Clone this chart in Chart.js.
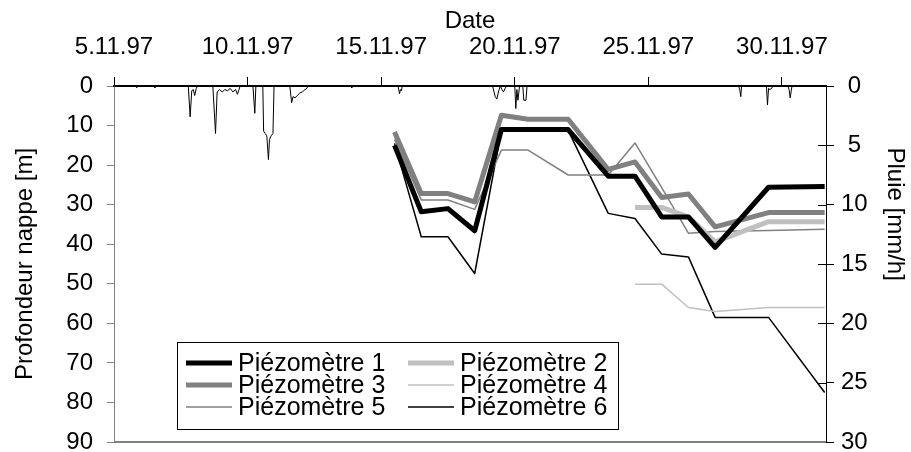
<!DOCTYPE html>
<html>
<head>
<meta charset="utf-8">
<script src="https://cdn.jsdelivr.net/npm/chart.js@4.4.0/dist/chart.umd.min.js"></script>
<style>
  html, body { margin: 0; padding: 0; background: #fff; }
  #wrap { width: 911px; height: 452px; }
</style>
</head>
<body>
<div id="wrap"><canvas id="nappeChart" width="911" height="452"></canvas></div>
<script>
// time axis: days after 5.11.97 00:00
const dateTicks = [0, 5, 10, 15, 20, 25];
const dateLabels = ["5.11.97", "10.11.97", "15.11.97", "20.11.97", "25.11.97", "30.11.97"];

// piezometer readings (depth of water table, m)
const days = [10.5, 11.5, 12.5, 13.5, 14.5, 15.5, 17, 18.5, 19.5, 20.5, 21.5, 22.5, 24.5, 26.6];
const piezo1 = [15.0, 31.8, 31.0, 36.6, 11.0, 11.0, 11.0, 22.8, 22.8, 33.1, 33.1, 40.8, 25.6, 25.4];
const piezo2 = [null, null, null, null, null, null, null, null, 30.7, 30.7, 33.1, 39.4, 34.3, 34.3];
const piezo3 = [11.6, 27.2, 27.2, 29.3, 7.4, 8.4, 8.4, 21.1, 19.2, 28.2, 27.3, 35.6, 32.0, 32.0];
const piezo4 = [null, null, null, null, null, null, null, null, 50.1, 50.1, 56.0, 57.0, 56.0, 56.0];
const piezo5 = [13.5, 28.8, 28.8, 31.2, 16.2, 16.2, 22.5, 22.5, 14.4, 25.7, 37.2, 36.8, 36.5, 36.2];
const piezo6 = [14.5, 38.1, 38.1, 47.4, 11.2, 11.2, 11.2, 32.2, 33.5, 42.5, 43.2, 58.5, 58.5, 77.5];

// rainfall intensity (mm/h)
const rainTime = [
  0, 0.80, 0.85, 0.90, 1.50, 1.53, 1.56,
  2.78, 2.85, 2.91, 2.97, 3.02, 3.08, 3.12,
  3.70, 3.80, 3.86, 3.95, 4.05, 4.15, 4.25, 4.35, 4.45, 4.55, 4.62, 4.68, 4.72,
  5.20, 5.27, 5.31,
  5.57, 5.60, 5.66, 5.72, 5.78, 5.82, 5.88, 5.95, 5.99,
  6.58, 6.65, 6.70, 6.78, 6.86, 6.95, 7.05, 7.15, 7.22, 7.26,
  8.88, 8.90, 8.92,
  10.63, 10.69, 10.72, 10.76, 10.79,
  14.17, 14.27, 14.33, 14.40, 14.46, 14.52, 14.58, 14.64, 14.70,
  15.00, 15.04, 15.08, 15.12, 15.18, 15.30, 15.34, 15.42, 15.46,
  23.38, 23.42, 23.46, 23.49,
  24.42, 24.46, 24.50, 24.55, 24.62, 24.66,
  25.22, 25.27, 25.31, 25.35, 25.38,
  26.65
];
const rainRate = [
  0, 0, 0.15, 0, 0, 0.15, 0,
  0, 2.6, 0.4, 0.3, 0.8, 0.2, 0,
  0, 4.0, 0.5, 0.3, 0.5, 0.3, 0.4, 0.2, 0.5, 0.3, 0.7, 0.3, 0,
  0, 2.3, 0,
  0, 3.8, 4.0, 4.2, 6.2, 4.5, 4.2, 4.0, 0,
  0, 1.4, 0.9, 1.0, 0.8, 0.6, 0.5, 0.3, 0.2, 0,
  0, 0.15, 0,
  0, 0.65, 0.3, 0.4, 0,
  0, 0.9, 1.1, 0.4, 0, 0.3, 0.5, 0.2, 0,
  0, 1.9, 0.3, 1.2, 0, 0, 1.2, 1.2, 0,
  0, 0.3, 0.9, 0,
  0, 1.6, 0.2, 0.3, 0.2, 0,
  0, 0.3, 1.0, 0.4, 0,
  0
];

const font = { family: "'Liberation Sans', Arial, sans-serif", size: 24 };
const legendFont = "25px 'Liberation Sans', Arial, sans-serif";
const rainTitle = "Pluie [mm/h]";

function piezoSeries(label, values, color, width) {
  return {
    label: label,
    data: days.map((d, i) => ({ x: d, y: values[i] })),
    yAxisID: "y",
    borderColor: color,
    backgroundColor: color,
    borderWidth: width,
    borderJoinStyle: "round",
    pointRadius: 0,
    tension: 0,
    spanGaps: false,
  };
}

// inner half of the rain axis ticks, bottom frame, rain axis title
const frameExtras = {
  id: "frameExtras",
  afterDatasetsDraw(chart) {
    const { ctx, chartArea } = chart;
    const rain = chart.scales.yRain;
    ctx.save();
    ctx.strokeStyle = "#000";
    ctx.lineWidth = 1;
    rain.ticks.forEach((t) => {
      const y = Math.round(rain.getPixelForValue(t.value)) + 0.5;
      ctx.beginPath();
      ctx.moveTo(chartArea.right - 8, y);
      ctx.lineTo(chartArea.right, y);
      ctx.stroke();
    });
    ctx.strokeStyle = "#808080";
    ctx.lineWidth = 2;
    ctx.beginPath();
    ctx.moveTo(chartArea.left, chartArea.bottom);
    ctx.lineTo(chartArea.right, chartArea.bottom);
    ctx.stroke();

    // title sits a bit above the middle of the rain axis
    ctx.translate(rain.right - 16, rain.getPixelForValue(10.8));
    ctx.rotate(Math.PI / 2);
    ctx.font = font.size + "px " + font.family;
    ctx.fillStyle = "#000";
    ctx.textAlign = "center";
    ctx.textBaseline = "middle";
    ctx.fillText(rainTitle, 0, 0);
    ctx.restore();
  },
};

// boxed two-column legend inside the plot
const boxLegend = {
  id: "boxLegend",
  afterDraw(chart) {
    const ctx = chart.ctx;
    const x0 = 177, y0 = 342, w = 441, h = 87;
    ctx.save();
    ctx.fillStyle = "#fff";
    ctx.fillRect(x0, y0, w, h);
    ctx.strokeStyle = "#000";
    ctx.lineWidth = 1;
    ctx.strokeRect(x0 + 0.5, y0 + 0.5, w, h);
    ctx.font = legendFont;
    ctx.textBaseline = "middle";
    const items = chart.data.datasets.filter((d) => d.yAxisID === "y");
    items.forEach((ds, i) => {
      const col = i % 2;
      const row = Math.floor(i / 2);
      const lx = x0 + 9 + col * 222;
      const cy = y0 + 21 + row * 22;
      ctx.strokeStyle = ds.borderColor;
      ctx.lineWidth = ds.borderWidth;
      ctx.beginPath();
      ctx.moveTo(lx, cy);
      ctx.lineTo(lx + 46, cy);
      ctx.stroke();
      ctx.fillStyle = "#000";
      ctx.fillText(ds.label, lx + 52, cy + 1);
    });
    ctx.restore();
  },
};

function noPad(s) {
  s.paddingTop = 0;
  s.paddingBottom = 0;
  s.paddingLeft = 0;
  s.paddingRight = 0;
}

new Chart(document.getElementById("nappeChart").getContext("2d"), {
  type: "line",
  data: {
    datasets: [
      piezoSeries("Piézomètre 1", piezo1, "#000000", 5),
      piezoSeries("Piézomètre 2", piezo2, "#c0c0c0", 5),
      piezoSeries("Piézomètre 3", piezo3, "#808080", 5),
      piezoSeries("Piézomètre 4", piezo4, "#c0c0c0", 1.5),
      piezoSeries("Piézomètre 5", piezo5, "#808080", 1.5),
      piezoSeries("Piézomètre 6", piezo6, "#000000", 1.5),
      {
        label: "Pluie",
        data: rainTime.map((t, i) => ({ x: t, y: rainRate[i] })),
        yAxisID: "yRain",
        borderColor: "#000",
        borderWidth: 1,
        pointRadius: 0,
        tension: 0,
        clip: false,
      },
    ],
  },
  options: {
    responsive: false,
    animation: false,
    devicePixelRatio: 1,
    layout: { padding: { top: 0, left: 0, right: 0, bottom: 10 } },
    plugins: {
      legend: { display: false },
      tooltip: { enabled: false },
    },
    scales: {
      x: {
        type: "linear",
        position: "top",
        min: 0,
        max: 26.65,
        afterBuildTicks: (s) => {
          s.ticks = dateTicks.map((v) => ({ value: v }));
        },
        afterFit: (s) => {
          s.height = 86;
          noPad(s);
        },
        ticks: {
          callback: (v) => dateLabels[dateTicks.indexOf(v)],
          padding: 15,
          font: font,
          color: "#000",
          maxRotation: 0,
          autoSkip: false,
        },
        grid: { drawOnChartArea: false, tickLength: 9, color: "#000" },
        border: { color: "#000", width: 2 },
        title: { display: true, text: "Date", font: font, color: "#000", padding: { top: 7, bottom: 0 } },
      },
      y: {
        position: "left",
        min: 0,
        max: 90,
        reverse: true,
        afterFit: (s) => {
          s.width = 114;
          noPad(s);
        },
        ticks: { stepSize: 10, padding: 14, font: font, color: "#000" },
        grid: { drawOnChartArea: false, tickLength: 7, color: "#808080" },
        border: { color: "#808080" },
        title: { display: true, text: "Profondeur nappe [m]", font: font, color: "#000", padding: { top: 11, bottom: 0 } },
      },
      yRain: {
        position: "right",
        min: 0,
        max: 30,
        reverse: true,
        afterFit: (s) => {
          s.width = 85;
          noPad(s);
        },
        ticks: { stepSize: 5, padding: 7, crossAlign: "center", font: font, color: "#000" },
        grid: { drawOnChartArea: false, tickLength: 8, color: "#000" },
        border: { color: "#000" },
        title: { display: false },
      },
    },
  },
  plugins: [frameExtras, boxLegend],
});
</script>
</body>
</html>
